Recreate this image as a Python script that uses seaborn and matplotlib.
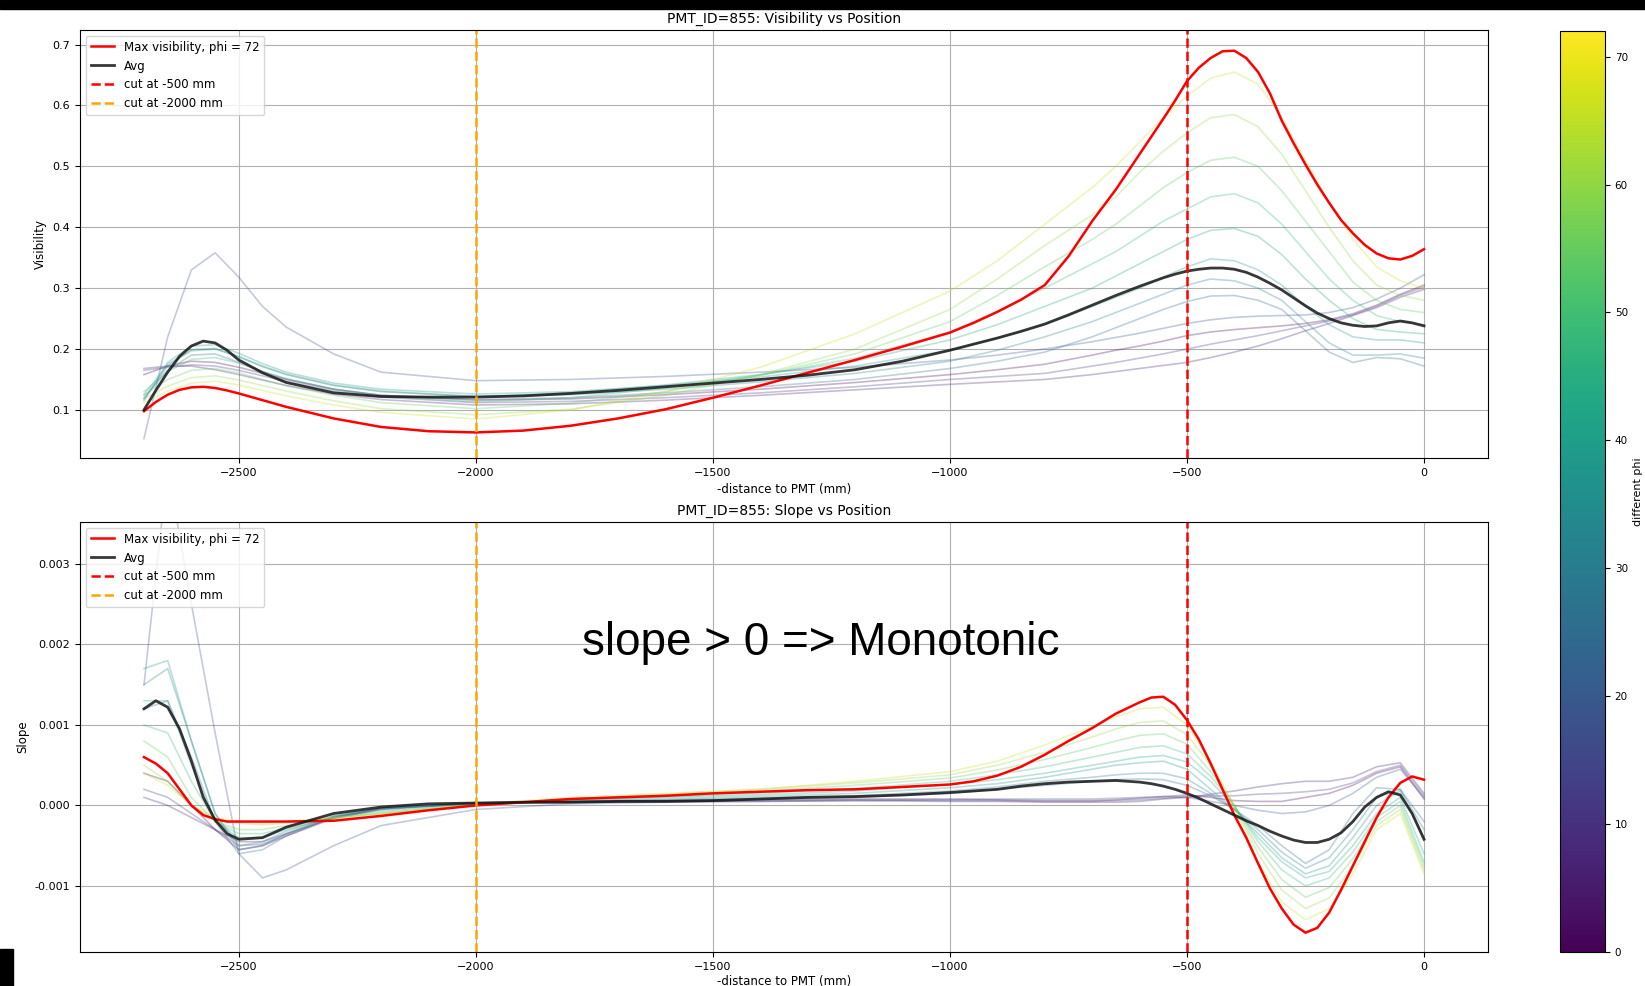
import numpy as np
import pandas as pd
import matplotlib
matplotlib.use("Agg")
import matplotlib.pyplot as plt
import matplotlib.ticker as mticker
import seaborn as sns
from matplotlib.colors import Normalize
from matplotlib.cm import ScalarMappable
from matplotlib.patches import Rectangle

# ---------------- data ----------------
# grid for the thin per-phi curves
x_mm = [-2700, -2650, -2600, -2550, -2500, -2450, -2400, -2300, -2200, -2000,
        -1800, -1600, -1400, -1200, -1000, -900, -800, -700, -650, -600,
        -550, -500, -450, -400, -350, -300, -250, -200, -150, -100, -50, 0]

phi_values = [0, 6, 12, 18, 24, 30, 36, 42, 48, 54, 60, 66]

vis_phi0 = [0.158, 0.172, 0.180, 0.178, 0.170, 0.160, 0.150, 0.134, 0.124, 0.116, 0.118, 0.125, 0.134, 0.145, 0.158, 0.166, 0.175, 0.190, 0.198, 0.205, 0.213, 0.222, 0.228, 0.232, 0.235, 0.238, 0.242, 0.248, 0.258, 0.272, 0.290, 0.305]
vis_phi6 = [0.168, 0.172, 0.172, 0.166, 0.158, 0.149, 0.140, 0.126, 0.117, 0.108, 0.110, 0.116, 0.124, 0.133, 0.142, 0.146, 0.150, 0.158, 0.163, 0.168, 0.173, 0.178, 0.186, 0.195, 0.205, 0.217, 0.230, 0.242, 0.255, 0.268, 0.285, 0.298]
vis_phi12 = [0.165, 0.170, 0.174, 0.172, 0.165, 0.156, 0.147, 0.131, 0.121, 0.112, 0.114, 0.120, 0.128, 0.138, 0.150, 0.155, 0.160, 0.172, 0.178, 0.185, 0.192, 0.200, 0.208, 0.215, 0.222, 0.230, 0.238, 0.246, 0.256, 0.270, 0.288, 0.302]
vis_phi18 = [0.053, 0.220, 0.330, 0.358, 0.318, 0.270, 0.236, 0.192, 0.162, 0.148, 0.150, 0.155, 0.162, 0.170, 0.182, 0.190, 0.200, 0.212, 0.219, 0.226, 0.234, 0.242, 0.248, 0.252, 0.254, 0.255, 0.256, 0.260, 0.268, 0.282, 0.300, 0.322]
vis_phi24 = [0.120, 0.165, 0.190, 0.192, 0.178, 0.163, 0.151, 0.134, 0.124, 0.117, 0.120, 0.128, 0.138, 0.150, 0.168, 0.180, 0.195, 0.220, 0.235, 0.250, 0.265, 0.278, 0.287, 0.288, 0.280, 0.265, 0.230, 0.195, 0.178, 0.186, 0.184, 0.172]
vis_phi30 = [0.118, 0.172, 0.199, 0.201, 0.187, 0.171, 0.158, 0.140, 0.130, 0.122, 0.125, 0.134, 0.146, 0.160, 0.180, 0.198, 0.220, 0.245, 0.260, 0.275, 0.290, 0.305, 0.315, 0.312, 0.300, 0.280, 0.245, 0.210, 0.190, 0.190, 0.192, 0.185]
vis_phi36 = [0.115, 0.178, 0.205, 0.207, 0.193, 0.176, 0.162, 0.144, 0.134, 0.126, 0.130, 0.140, 0.154, 0.172, 0.198, 0.218, 0.240, 0.270, 0.285, 0.300, 0.318, 0.335, 0.348, 0.345, 0.330, 0.305, 0.270, 0.240, 0.220, 0.215, 0.215, 0.210]
vis_phi42 = [0.125, 0.175, 0.197, 0.200, 0.188, 0.172, 0.159, 0.141, 0.131, 0.122, 0.128, 0.141, 0.158, 0.180, 0.215, 0.240, 0.270, 0.300, 0.320, 0.340, 0.360, 0.380, 0.395, 0.398, 0.385, 0.355, 0.315, 0.280, 0.250, 0.232, 0.228, 0.225]
vis_phi48 = [0.130, 0.163, 0.183, 0.186, 0.177, 0.163, 0.151, 0.134, 0.123, 0.113, 0.120, 0.136, 0.157, 0.185, 0.228, 0.262, 0.300, 0.340, 0.360, 0.385, 0.410, 0.430, 0.450, 0.455, 0.440, 0.405, 0.360, 0.315, 0.280, 0.255, 0.245, 0.240]
vis_phi54 = [0.125, 0.150, 0.165, 0.168, 0.161, 0.150, 0.140, 0.124, 0.112, 0.102, 0.111, 0.130, 0.157, 0.192, 0.245, 0.288, 0.335, 0.380, 0.405, 0.435, 0.465, 0.490, 0.510, 0.515, 0.500, 0.460, 0.410, 0.360, 0.310, 0.280, 0.265, 0.260]
vis_phi60 = [0.118, 0.139, 0.153, 0.156, 0.149, 0.140, 0.131, 0.115, 0.102, 0.092, 0.101, 0.124, 0.158, 0.200, 0.265, 0.315, 0.370, 0.420, 0.450, 0.490, 0.525, 0.555, 0.580, 0.585, 0.565, 0.520, 0.460, 0.400, 0.345, 0.305, 0.288, 0.280]
vis_phi66 = [0.112, 0.131, 0.144, 0.147, 0.141, 0.132, 0.123, 0.108, 0.096, 0.085, 0.100, 0.130, 0.170, 0.225, 0.295, 0.345, 0.405, 0.465, 0.500, 0.540, 0.580, 0.615, 0.645, 0.655, 0.635, 0.580, 0.510, 0.440, 0.380, 0.335, 0.312, 0.300]

slope_phi0 = [0.0004, 0.0003, 0.0, -0.0003, -0.00055, -0.0005, -0.00038, -0.00016, -0.00004, 0.00003, 0.00005, 0.00006, 0.00007, 0.00008, 0.00008, 0.00007, 0.00006, 0.00006, 0.00007, 0.00009, 0.00011, 0.00013, 0.0001, 0.00006, 0.00005, 0.00005, 0.0001, 0.00015, 0.00025, 0.0004, 0.00048, 0.00008]
slope_phi6 = [0.0001, 0.0, -0.00015, -0.0003, -0.00045, -0.00045, -0.00035, -0.00015, -0.00005, 0.00003, 0.00004, 0.00005, 0.00005, 0.00006, 0.00005, 0.00005, 0.00004, 0.00004, 0.00004, 0.00005, 0.00008, 0.0001, 0.00014, 0.00018, 0.00023, 0.00027, 0.0003, 0.0003, 0.00035, 0.00048, 0.00053, 0.00015]
slope_phi12 = [0.0002, 0.0001, -0.0001, -0.0003, -0.0005, -0.00048, -0.00036, -0.00015, -0.00004, 0.00003, 0.00005, 0.00005, 0.00006, 0.00007, 0.00006, 0.00006, 0.00005, 0.00005, 0.00006, 0.00007, 0.00009, 0.00011, 0.00012, 0.00012, 0.00014, 0.00015, 0.00017, 0.0002, 0.00028, 0.00042, 0.0005, 0.00012]
slope_phi18 = [0.0015, 0.0042, 0.0025, 0.0009, -0.0006, -0.0009, -0.0008, -0.0005, -0.00025, -0.00005, 0.00002, 0.00004, 0.00005, 0.00006, 0.00007, 0.00008, 0.00008, 0.00008, 0.00009, 0.0001, 0.00011, 0.0001, 0.00005, 0.0, -0.00006, -0.0001, -0.00008, 0.0, 0.00015, 0.00035, 0.00045, 0.0001]
slope_phi24 = [0.0012, 0.0013, 0.0006, -0.0002, -0.0006, -0.00055, -0.00038, -0.00014, -0.00003, 0.00002, 0.00004, 0.00006, 0.00008, 0.0001, 0.00015, 0.0002, 0.00025, 0.0003, 0.00032, 0.00033, 0.00032, 0.00025, 0.00012, -0.00005, -0.00025, -0.0005, -0.00072, -0.00055, -0.0001, 0.00022, 0.0002, -0.0002]
slope_phi30 = [0.0015, 0.0017, 0.0008, -0.0001, -0.00055, -0.0005, -0.00035, -0.00013, -0.00003, 0.00002, 0.00005, 0.00007, 0.00009, 0.00012, 0.00018, 0.00023, 0.0003, 0.00035, 0.00038, 0.0004, 0.0004, 0.00033, 0.00015, -0.00005, -0.0003, -0.00058, -0.00078, -0.00065, -0.0003, 0.0001, 0.0002, -0.0003]
slope_phi36 = [0.0017, 0.0018, 0.0008, -0.0001, -0.0005, -0.00045, -0.00032, -0.00013, -0.00004, 0.00002, 0.00005, 0.00008, 0.00011, 0.00015, 0.00022, 0.00027, 0.00035, 0.00045, 0.0005, 0.00053, 0.00055, 0.00045, 0.0002, -0.00005, -0.00035, -0.00065, -0.00085, -0.00075, -0.0004, 0.0, 0.00018, -0.0004]
slope_phi42 = [0.0013, 0.0013, 0.0005, -0.0002, -0.0004, -0.0004, -0.0003, -0.00015, -0.00006, 0.00002, 0.00006, 0.0001, 0.00013, 0.00018, 0.00026, 0.00032, 0.0004, 0.0005, 0.00055, 0.0006, 0.00062, 0.00054, 0.0003, -0.00002, -0.0004, -0.0007, -0.0009, -0.00082, -0.0005, -0.0001, 0.0001, -0.0006]
slope_phi48 = [0.001, 0.0009, 0.0003, -0.0002, -0.00035, -0.00035, -0.00028, -0.00015, -0.00008, 0.00001, 0.00007, 0.00011, 0.00015, 0.00021, 0.0003, 0.00038, 0.00048, 0.0006, 0.00066, 0.00072, 0.00074, 0.00064, 0.00036, 0.0, -0.00045, -0.0008, -0.001, -0.0009, -0.00058, -0.00015, 0.00005, -0.0007]
slope_phi54 = [0.0008, 0.0006, 0.0001, -0.0002, -0.0003, -0.0003, -0.00025, -0.00016, -0.0001, 0.0, 0.00008, 0.00013, 0.00018, 0.00025, 0.00034, 0.00044, 0.00057, 0.00072, 0.0008, 0.00087, 0.00089, 0.00076, 0.00042, 0.0, -0.00052, -0.00092, -0.00114, -0.00102, -0.00066, -0.0002, 0.0, -0.00075]
slope_phi60 = [0.0005, 0.0003, 0.0, -0.00018, -0.00022, -0.00024, -0.00022, -0.00016, -0.0001, 0.0, 0.00008, 0.00014, 0.0002, 0.00028, 0.00038, 0.0005, 0.00066, 0.00085, 0.00095, 0.00103, 0.00105, 0.00088, 0.0005, 0.0, -0.0006, -0.00105, -0.00128, -0.00115, -0.00075, -0.00025, -0.00005, -0.0008]
slope_phi66 = [0.0004, 0.00025, 0.0, -0.00015, -0.0002, -0.00022, -0.0002, -0.00015, -0.0001, 0.00002, 0.0001, 0.00015, 0.0002, 0.0003, 0.00042, 0.00055, 0.00075, 0.00098, 0.0011, 0.0012, 0.00122, 0.001, 0.00055, -0.00002, -0.0007, -0.0012, -0.00142, -0.00128, -0.00085, -0.0003, -0.0001, -0.00085]

# finer grid for the highlighted curves (max-visibility phi and average)
x_fine = [-2700, -2675, -2650, -2625, -2600, -2575, -2550, -2525, -2500, -2450,
          -2400, -2300, -2200, -2100, -2000, -1900, -1800, -1700, -1600, -1500,
          -1400, -1300, -1200, -1100, -1000, -950, -900, -850, -800, -750,
          -700, -650, -600, -575, -550, -525, -500, -475, -450, -425,
          -400, -375, -350, -325, -300, -275, -250, -225, -200, -175,
          -150, -125, -100, -75, -50, -25, 0]

vis_max72 = [0.098, 0.113, 0.125, 0.133, 0.137, 0.138, 0.136, 0.132, 0.127, 0.116,
             0.105, 0.086, 0.072, 0.065, 0.063, 0.066, 0.074, 0.086, 0.101, 0.120,
             0.140, 0.161, 0.182, 0.204, 0.227, 0.243, 0.261, 0.281, 0.305, 0.352,
             0.410, 0.462, 0.520, 0.549, 0.578, 0.608, 0.640, 0.662, 0.678, 0.689,
             0.690, 0.678, 0.655, 0.620, 0.575, 0.538, 0.503, 0.470, 0.440, 0.412,
             0.390, 0.371, 0.357, 0.349, 0.347, 0.353, 0.364]
vis_avg = [0.100, 0.132, 0.162, 0.188, 0.205, 0.213, 0.210, 0.198, 0.182, 0.161,
           0.145, 0.128, 0.122, 0.121, 0.121, 0.123, 0.127, 0.132, 0.138, 0.144,
           0.150, 0.157, 0.166, 0.180, 0.198, 0.208, 0.218, 0.229, 0.241, 0.256,
           0.272, 0.288, 0.303, 0.310, 0.317, 0.323, 0.328, 0.331, 0.333, 0.333,
           0.331, 0.326, 0.318, 0.308, 0.297, 0.284, 0.271, 0.259, 0.250, 0.243,
           0.239, 0.237, 0.238, 0.243, 0.246, 0.243, 0.238]
slope_max72 = [0.0006, 0.00052, 0.0004, 0.0002, 0.0, -0.00012, -0.00017, -0.0002, -0.0002, -0.0002,
               -0.0002, -0.00019, -0.00013, -0.00006, 0.0, 0.00004, 0.00008, 0.0001, 0.00012, 0.00015,
               0.00017, 0.00019, 0.0002, 0.00023, 0.00026, 0.0003, 0.00037, 0.00048, 0.00063, 0.0008,
               0.00096, 0.00114, 0.00128, 0.00134, 0.00135, 0.00125, 0.00106, 0.00082, 0.00052, 0.0002,
               -0.00012, -0.0004, -0.00072, -0.00103, -0.00128, -0.00148, -0.00158, -0.00152, -0.00133, -0.00105,
               -0.00075, -0.00045, -0.00015, 0.0001, 0.00028, 0.00036, 0.00032]
slope_avg = [0.0012, 0.0013, 0.00122, 0.00095, 0.00055, 0.0001, -0.00018, -0.00035, -0.00042, -0.0004,
             -0.00027, -0.0001, -0.00002, 0.00002, 0.00003, 0.00004, 0.00004, 0.00005, 0.00005, 0.00006,
             0.00008, 0.0001, 0.00011, 0.00013, 0.00016, 0.00018, 0.0002, 0.00024, 0.00027, 0.00029,
             0.0003, 0.00031, 0.00029, 0.00027, 0.00024, 0.0002, 0.00015, 0.00009, 0.00002, -0.00005,
             -0.00012, -0.00019, -0.00025, -0.00032, -0.00038, -0.00043, -0.00046, -0.00046, -0.00042, -0.00034,
             -0.0002, -0.00002, 0.0001, 0.00017, 0.00013, -0.0001, -0.00042]

vis_thin = [vis_phi0, vis_phi6, vis_phi12, vis_phi18, vis_phi24, vis_phi30,
            vis_phi36, vis_phi42, vis_phi48, vis_phi54, vis_phi60, vis_phi66]
slope_thin = [slope_phi0, slope_phi6, slope_phi12, slope_phi18, slope_phi24, slope_phi30,
              slope_phi36, slope_phi42, slope_phi48, slope_phi54, slope_phi60, slope_phi66]

max_phi = 72
cut_near = -500
cut_far = -2000
x_ticks = [-2500, -2000, -1500, -1000, -500, 0]

# ---------------- build tables ----------------
rows = []
for phi, v, s in zip(phi_values, vis_thin, slope_thin):
    for xx, vv, ss in zip(x_mm, v, s):
        rows.append({"x": xx, "vis": vv, "slope": ss, "phi": phi})
df = pd.DataFrame(rows)
df_max = pd.DataFrame({"x": x_fine, "vis": vis_max72, "slope": slope_max72})
df_avg = pd.DataFrame({"x": x_fine, "vis": vis_avg, "slope": slope_avg})

plt.rcParams.update({
    "xtick.labelsize": 8, "ytick.labelsize": 8, "axes.labelsize": 8.5,
    "legend.fontsize": 8.5, "axes.titlesize": 10,
})

W, H = 1645, 986
fig = plt.figure(figsize=(W / 100, H / 100), dpi=100)
ax1 = fig.add_axes([80 / W, 1 - 458 / H, 1408 / W, 428 / H])
ax2 = fig.add_axes([80 / W, 1 - 952 / H, 1408 / W, 430 / H])
cax = fig.add_axes([1560 / W, 1 - 952 / H, 45 / W, 921 / H])

norm = Normalize(0, max_phi)

for ax, col, title, ylabel, tpad, lpad in [
    (ax1, "vis", "PMT_ID=855: Visibility vs Position", "Visibility", 5, 4),
    (ax2, "slope", "PMT_ID=855: Slope vs Position", "Slope", 5, 2),
]:
    sns.lineplot(data=df, x="x", y=col, hue="phi", palette="viridis", hue_norm=norm,
                 units="phi", estimator=None, sort=False, alpha=0.3, linewidth=1.2,
                 legend=False, ax=ax)
    sns.lineplot(data=df_max, x="x", y=col, color="red", linewidth=1.8,
                 estimator=None, sort=False, label=f"Max visibility, phi = {max_phi}", ax=ax)
    sns.lineplot(data=df_avg, x="x", y=col, color="#151515", linewidth=2.0, alpha=0.85,
                 estimator=None, sort=False, label="Avg", ax=ax)
    ax.axvline(cut_near, color="red", linestyle="--", linewidth=1.8, label=f"cut at {cut_near} mm")
    ax.axvline(cut_far, color="orange", linestyle="--", linewidth=1.8, label=f"cut at {cut_far} mm")
    ax.set_title(title, pad=tpad)
    ax.set_xlabel("-distance to PMT (mm)", labelpad=lpad)
    ax.set_ylabel(ylabel)
    ax.set_xlim(-2835, 135)
    ax.set_xticks(x_ticks)
    ax.grid(True, color="#b0b0b0", linewidth=0.8)
    ax.legend(loc="upper left")

ax1.set_ylim(0.021, 0.724)
ax1.set_yticks([0.1, 0.2, 0.3, 0.4, 0.5, 0.6, 0.7])
ax2.set_ylim(-0.00182, 0.00352)
ax2.set_yticks([-0.001, 0.0, 0.001, 0.002, 0.003])
ax2.yaxis.set_major_formatter(mticker.FormatStrFormatter("%.3f"))

sm = ScalarMappable(norm=norm, cmap="viridis")
sm.set_array([])
cb = fig.colorbar(sm, cax=cax)
cb.set_label("different phi", fontsize=8)
cb.ax.tick_params(labelsize=7.5)

fig.text(821 / W, 1 - 655 / H, "slope > 0 => Monotonic", ha="center", va="baseline",
         fontsize=33, family=["Liberation Sans", "DejaVu Sans"], color="black")

# screenshot edges
fig.patches.append(Rectangle((0, 1 - 9 / H), 1, 9 / H, transform=fig.transFigure,
                             color="black", zorder=10))
fig.patches.append(Rectangle((0, 0), 13 / W, 37 / H, transform=fig.transFigure,
                             color="black", zorder=10))

fig.savefig("out.png", dpi=100)
